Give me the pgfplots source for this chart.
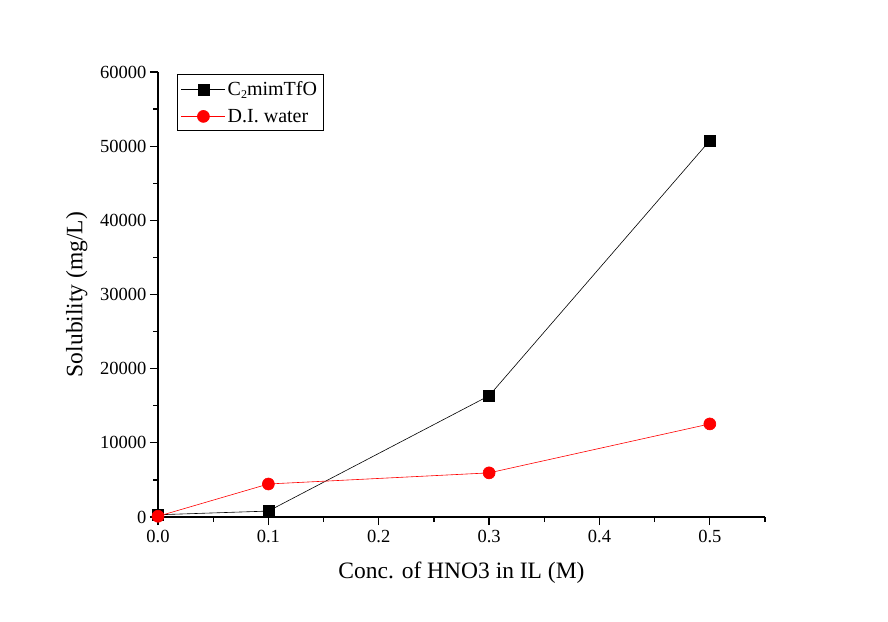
\documentclass[border=0pt]{standalone}
\usepackage{fontspec}
\setmainfont{Liberation Serif}
\usepackage{pgfplots}
\pgfplotsset{compat=1.18}
\begin{document}
\begin{tikzpicture}[x=1pt,y=1pt]
\path[use as bounding box] (0,0) rectangle (888,621);
\begin{axis}[
  at={(158pt,104pt)}, anchor=origin,
  scale only axis, width=607pt, height=445pt,
  xmin=0, xmax=0.55, ymin=0, ymax=60000,
  axis x line*=bottom, axis y line*=left,
  axis line style={line width=1.6pt, -},
  xtick={0,0.1,0.2,0.3,0.4,0.5},
  minor xtick={0.05,0.15,0.25,0.35,0.45,0.55},
  ytick={0,10000,20000,30000,40000,50000,60000},
  minor ytick={5000,15000,25000,35000,45000,55000},
  tick align=outside,
  major tick length=8pt, minor tick length=5pt,
  tick style={line width=1.2pt, black},
  x tick label style={yshift=-2pt, /pgf/number format/.cd, fixed, fixed zerofill, precision=1, assume math mode=true},
  y tick label style={/pgf/number format/.cd, fixed, set thousands separator={}, assume math mode=true},
  scaled x ticks=false, scaled y ticks=false,
  tick label style={font=\fontsize{18.5}{20}\selectfont},
  xlabel={Conc. of HNO3 in IL (M)},
  ylabel={Solubility (mg/L)},
  label style={font=\fontsize{23.5}{26}\selectfont},
  xlabel style={yshift=-12pt},
  ylabel style={yshift=6pt},
  legend style={at={(rel axis cs:0.031,0.995)}, anchor=north west,
    font=\fontsize{20}{24}\selectfont, draw=black, line width=0.6pt,
    inner xsep=4pt, inner ysep=5pt, row sep=8pt},
  legend cell align=left,
  legend image post style={line width=0.6pt},
  legend image code/.code={\draw[#1] (0pt,0pt) -- (22pt,0pt) -- (44pt,0pt); \draw[#1,only marks] plot coordinates {(22pt,0pt)};},
]
\addplot[black, line width=0.6pt, mark=square*, mark size=5.5pt, mark options={solid, fill=black}]
  coordinates {(0,300) (0.1,800) (0.3,16350) (0.5,50750)};
\addlegendentry{C\raisebox{-0.35ex}{\fontsize{12}{12}\selectfont 2}mimTfO}
\addplot[red, line width=0.6pt, mark=*, mark size=6pt, mark options={solid, fill=red}]
  coordinates {(0,100) (0.1,4450) (0.3,5950) (0.5,12550)};
\addlegendentry{D.I. water}
\end{axis}
\end{tikzpicture}
\end{document}
